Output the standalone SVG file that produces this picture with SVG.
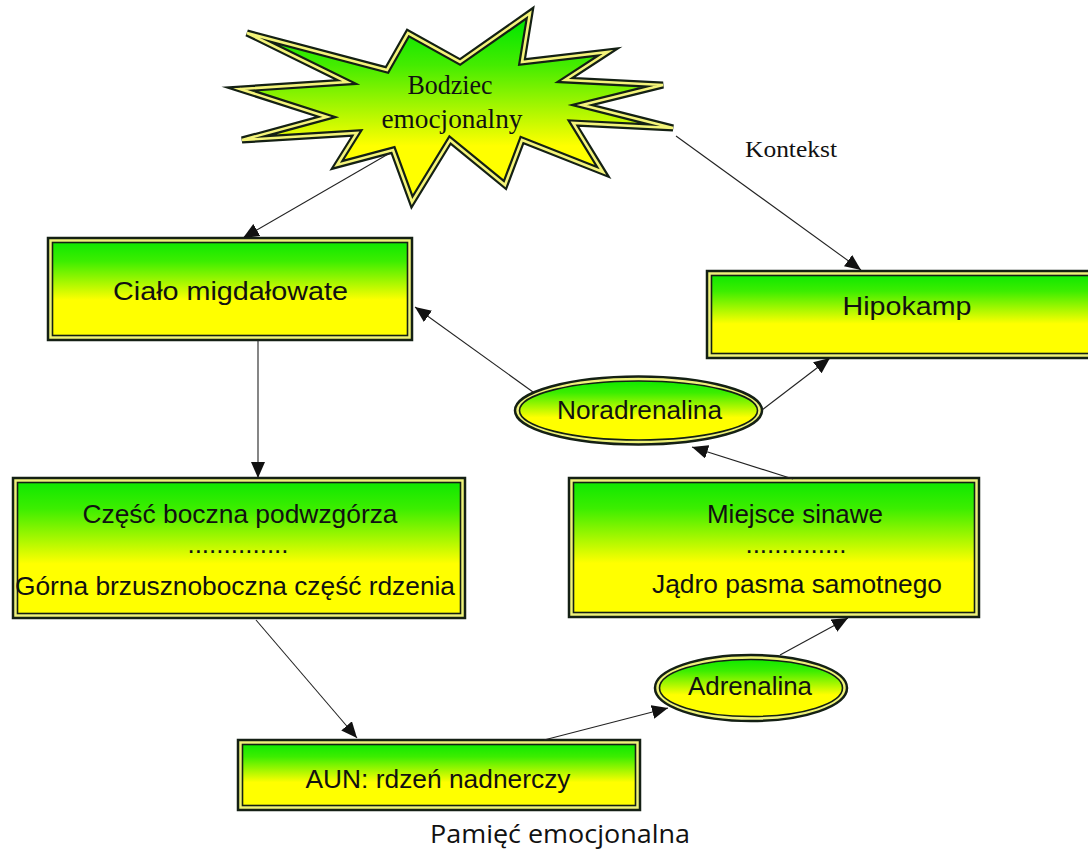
<svg xmlns="http://www.w3.org/2000/svg" width="1088" height="856" viewBox="0 0 1088 856">
<defs>
<linearGradient id="gBox" x1="0" y1="0" x2="0" y2="1">
<stop offset="0" stop-color="#10e800"/>
<stop offset="0.2" stop-color="#3cee00"/>
<stop offset="0.62" stop-color="#ffff00"/>
<stop offset="1" stop-color="#ffff00"/>
</linearGradient>
<linearGradient id="gStar" gradientUnits="userSpaceOnUse" x1="0" y1="20" x2="0" y2="200">
<stop offset="0" stop-color="#00e600"/>
<stop offset="0.25" stop-color="#44ec00"/>
<stop offset="0.7" stop-color="#ffff00"/>
<stop offset="1" stop-color="#ffff00"/>
</linearGradient>
<marker id="arr" markerUnits="userSpaceOnUse" markerWidth="17" markerHeight="14" refX="16" refY="7" orient="auto">
<path d="M0,0 L16,7 L0,14 z" fill="#111"/>
</marker>
</defs>
<style>
.outer{fill:#eef27a;stroke:#142014;stroke-width:2.5}
.inner{fill:url(#gBox);stroke:#142014;stroke-width:1.6}
.t{font-family:"Liberation Sans",Arial,sans-serif;font-size:26px;fill:#111;text-anchor:middle}
.lbl{font-family:"Liberation Serif","Times New Roman",serif;fill:#111;text-anchor:middle}
.c{stroke:#222;stroke-width:1.1;fill:none;marker-end:url(#arr)}
</style>
<rect width="1088" height="856" fill="#ffffff"/>

<g id="star">
<polygon points="530,13 522,62 608,52 565,80 663,85 582,105 673,128 573,123 603,172 522,140 505,185 450,140 412,202 393,150 337,165 357,133 242,140 327,117 240,89 347,82 247,33 387,70 408,33 460,62" fill="url(#gStar)" stroke="#142014" stroke-width="7" stroke-linejoin="miter" stroke-miterlimit="6"/>
<polygon points="530,13 522,62 608,52 565,80 663,85 582,105 673,128 573,123 603,172 522,140 505,185 450,140 412,202 393,150 337,165 357,133 242,140 327,117 240,89 347,82 247,33 387,70 408,33 460,62" fill="none" stroke="#f4f47a" stroke-width="2.6" stroke-linejoin="miter" stroke-miterlimit="6"/>
<text class="lbl" x="450" y="94" font-size="27" textLength="85" lengthAdjust="spacingAndGlyphs">Bodziec</text>
<text class="lbl" x="452" y="128" font-size="27" textLength="141" lengthAdjust="spacingAndGlyphs">emocjonalny</text>
</g>

<g id="kontekst">
<text class="lbl" x="791" y="157" font-size="24" textLength="92" lengthAdjust="spacingAndGlyphs">Kontekst</text>
</g>

<g id="cialo">
<rect class="outer" x="48" y="238" width="364" height="102"/>
<rect class="inner" x="52.5" y="242.5" width="355" height="93"/>
<text class="t" x="230.5" y="300" textLength="235" lengthAdjust="spacingAndGlyphs">Ciało migdałowate</text>
</g>

<g id="hipokamp">
<rect class="outer" x="707" y="271" width="400" height="87"/>
<rect class="inner" x="711.5" y="275.5" width="391" height="78"/>
<text class="t" x="907" y="315" font-size="28" textLength="129" lengthAdjust="spacingAndGlyphs">Hipokamp</text>
</g>

<g id="noradrenalina">
<ellipse class="outer" cx="638.5" cy="410.5" rx="123.5" ry="34"/>
<ellipse class="inner" cx="638.5" cy="410.5" rx="119" ry="29.5"/>
<text class="t" x="639.5" y="419" textLength="165" lengthAdjust="spacingAndGlyphs">Noradrenalina</text>
</g>

<g id="czesc">
<rect class="outer" x="13" y="478" width="452" height="140"/>
<rect class="inner" x="17.5" y="482.5" width="443" height="131"/>
<text class="t" x="240" y="523" textLength="315" lengthAdjust="spacingAndGlyphs">Część boczna podwzgórza</text>
<text class="t" x="238" y="553">..............</text>
<text class="t" x="235" y="595" textLength="440" lengthAdjust="spacingAndGlyphs">Górna brzusznoboczna część rdzenia</text>
</g>

<g id="miejsce">
<rect class="outer" x="569" y="478" width="410" height="139"/>
<rect class="inner" x="573.5" y="482.5" width="401" height="130"/>
<text class="t" x="795" y="523" textLength="176" lengthAdjust="spacingAndGlyphs">Miejsce sinawe</text>
<text class="t" x="796" y="553">..............</text>
<text class="t" x="797" y="593" textLength="290" lengthAdjust="spacingAndGlyphs">Jądro pasma samotnego</text>
</g>

<g id="adrenalina">
<ellipse class="outer" cx="751" cy="688" rx="96" ry="33"/>
<ellipse class="inner" cx="751" cy="688" rx="91.5" ry="28.5"/>
<text class="t" x="750" y="695" textLength="124" lengthAdjust="spacingAndGlyphs">Adrenalina</text>
</g>

<g id="aun">
<rect class="outer" x="238" y="740" width="402" height="70"/>
<rect class="inner" x="242.5" y="744.5" width="393" height="61"/>
<text class="t" x="438" y="788" textLength="265" lengthAdjust="spacingAndGlyphs">AUN: rdzeń nadnerczy</text>
</g>

<g id="connectors">
<line class="c" x1="390" y1="153" x2="243" y2="238"/>
<line class="c" x1="676" y1="136" x2="861" y2="270"/>
<line class="c" x1="258" y1="340" x2="258" y2="478"/>
<line class="c" x1="533" y1="392" x2="415" y2="307"/>
<line class="c" x1="762" y1="410" x2="830" y2="358"/>
<line class="c" x1="793" y1="479" x2="692" y2="447"/>
<line class="c" x1="256" y1="620" x2="357" y2="738"/>
<line class="c" x1="544" y1="740" x2="668" y2="708"/>
<line class="c" x1="780" y1="655" x2="848" y2="618"/>
</g>

<g id="caption">
<text x="560" y="843" font-family="'Open Sans','Liberation Sans',sans-serif" font-size="26" fill="#111" text-anchor="middle" textLength="260" lengthAdjust="spacingAndGlyphs">Pamięć emocjonalna</text>
</g>
</svg>
